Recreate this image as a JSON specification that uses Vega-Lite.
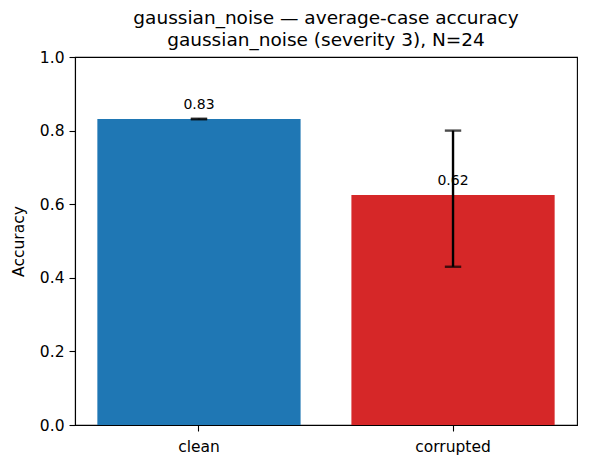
{
  "$schema": "https://vega.github.io/schema/vega-lite/v6.json",
  "width": 502,
  "height": 368,
  "autosize": "none",
  "padding": {"left": 75, "top": 57, "right": 12, "bottom": 42},
  "config": {
    "font": "DejaVu Sans",
    "view": {"stroke": "black", "strokeWidth": 1.1},
    "axis": {"grid": false, "domainColor": "black", "tickColor": "black", "labelColor": "black", "titleColor": "black", "labelFont": "DejaVu Sans", "titleFont": "DejaVu Sans", "labelFontSize": 15.5, "titleFontSize": 15.5, "titleFontWeight": "normal", "tickSize": 6, "tickWidth": 1.1, "domainWidth": 1.1, "labelPadding": 5}
  },
  "title": {
    "text": ["gaussian_noise — average-case accuracy", "gaussian_noise (severity 3), N=24"],
    "font": "DejaVu Sans",
    "fontSize": 18.5,
    "fontWeight": "normal",
    "color": "black",
    "lineHeight": 21.5,
    "offset": 1,
    "anchor": "middle"
  },
  "data": {
    "values": [
      {"condition": "clean", "accuracy": 0.8315, "lo": 0.8305, "hi": 0.8325, "label": "0.83"},
      {"condition": "corrupted", "accuracy": 0.625, "lo": 0.43, "hi": 0.80, "label": "0.62"}
    ]
  },
  "encoding": {
    "x": {
      "field": "condition",
      "type": "nominal",
      "sort": ["clean", "corrupted"],
      "scale": {"paddingInner": 0.2, "paddingOuter": 0.088},
      "axis": {"title": null, "labelAngle": 0, "labelPadding": 8}
    }
  },
  "layer": [
    {
      "mark": {"type": "bar"},
      "encoding": {
        "y": {
          "field": "accuracy",
          "type": "quantitative",
          "scale": {"domain": [0, 1], "nice": false},
          "axis": {"title": "Accuracy", "values": [0, 0.2, 0.4, 0.6, 0.8, 1.0], "format": ".1f", "titlePadding": 13}
        },
        "color": {
          "field": "condition",
          "type": "nominal",
          "scale": {"domain": ["clean", "corrupted"], "range": ["#1f77b4", "#d62728"]},
          "legend": null
        }
      }
    },
    {
      "mark": {"type": "rule", "color": "black", "strokeWidth": 2.4},
      "encoding": {
        "y": {"field": "lo", "type": "quantitative"},
        "y2": {"field": "hi"}
      }
    },
    {
      "mark": {"type": "tick", "color": "black", "thickness": 2.4, "size": 16.4},
      "encoding": {
        "y": {"field": "lo", "type": "quantitative"}
      }
    },
    {
      "mark": {"type": "tick", "color": "black", "thickness": 2.4, "size": 16.4},
      "encoding": {
        "y": {"field": "hi", "type": "quantitative"}
      }
    },
    {
      "mark": {"type": "text", "fontSize": 14, "color": "black", "baseline": "alphabetic", "dy": -10},
      "encoding": {
        "y": {"field": "accuracy", "type": "quantitative"},
        "text": {"field": "label"}
      }
    }
  ]
}
